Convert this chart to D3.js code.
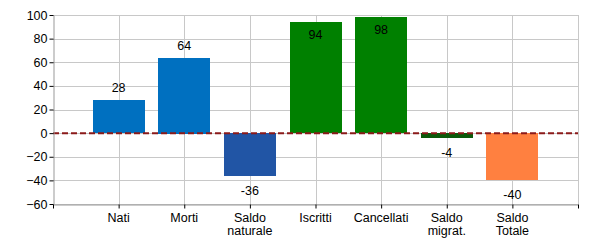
<!DOCTYPE html>
<html>
<head>
<meta charset="utf-8">
<script src="https://cdn.jsdelivr.net/npm/d3@7"></script>
<style>
  body { margin: 0; background: #fff; }
  text { font-family: "Liberation Sans", Arial, sans-serif; }
</style>
</head>
<body>
<svg id="chart" width="600" height="250"></svg>
<script>
/* Chart data */
var categories = ['Nati', 'Morti', 'Saldo\nnaturale', 'Iscritti', 'Cancellati', 'Saldo\nmigrat.', 'Saldo\nTotale'];
var values = [28, 64, -36, 94, 98, -4, -40];
var colors = ['#0070c0', '#0070c0', '#2155a5', '#008000', '#008000', '#0b5a0b', '#ff8040'];
var yTicks = [-60, -40, -20, 0, 20, 40, 60, 80, 100];

var svg = d3.select('#chart');
var plotLeft = 53, plotRight = 578, plotTop = 15, plotBottom = 204;

// one extra slot so the last category sits one step before the right edge
var x = d3.scaleLinear().domain([0, categories.length + 1]).range([plotLeft, plotRight]);
var y = d3.scaleLinear().domain([-60, 100]).range([plotBottom, plotTop]);
var barW = 52;

// grid
svg.append('g').selectAll('line').data(yTicks).enter().append('line')
  .attr('x1', plotLeft).attr('x2', plotRight)
  .attr('y1', function(d) { return Math.round(y(d)) + 0.5; })
  .attr('y2', function(d) { return Math.round(y(d)) + 0.5; })
  .attr('stroke', '#c8c8c8');
svg.append('g').selectAll('line').data(d3.range(1, categories.length + 2)).enter().append('line')
  .attr('y1', plotTop).attr('y2', plotBottom)
  .attr('x1', function(d) { return Math.round(x(d)) + 0.5; })
  .attr('x2', function(d) { return Math.round(x(d)) + 0.5; })
  .attr('stroke', '#c8c8c8');

// bars
svg.append('g').selectAll('rect').data(values).enter().append('rect')
  .attr('x', function(d, i) { return Math.round(x(i + 1) - barW / 2); })
  .attr('width', barW)
  .attr('y', function(d) { return Math.round(y(Math.max(d, 0))); })
  .attr('height', function(d) { return Math.round(Math.abs(y(d) - y(0))); })
  .attr('fill', function(d, i) { return colors[i]; });

// value labels: above positive bars, inside the tall ones, below negatives
svg.append('g').selectAll('text').data(values).enter().append('text')
  .attr('x', function(d, i) { return x(i + 1); })
  .attr('y', function(d) {
    if (d < 0) return y(d) + 19;
    if (d > 85) return y(d) + 17;
    return y(d) - 8;
  })
  .attr('text-anchor', 'middle')
  .attr('font-size', 12.5)
  .attr('fill', '#000')
  .text(function(d) { return d; });

// zero line
svg.append('line')
  .attr('x1', plotLeft).attr('x2', plotRight)
  .attr('y1', y(0)).attr('y2', y(0))
  .attr('stroke', '#8b1a1a').attr('stroke-width', 2)
  .attr('stroke-dasharray', '6,3');

// y axis
var yAxis = svg.append('g')
  .attr('transform', 'translate(' + (plotLeft + 0.5) + ',0)')
  .call(d3.axisLeft(y).tickValues(yTicks).tickSize(4).tickSizeOuter(0));
yAxis.select('.domain').attr('stroke', '#999');
yAxis.selectAll('.tick line').attr('stroke', '#000');
yAxis.selectAll('.tick text').attr('font-size', 12.5).attr('fill', '#000')
  .attr('font-family', '"Liberation Sans", Arial, sans-serif').attr('dx', 1);

// x axis
var xAxis = svg.append('g')
  .attr('transform', 'translate(0,' + (plotBottom + 0.5) + ')')
  .call(d3.axisBottom(x).tickValues(d3.range(0, categories.length + 2)).tickSize(4).tickSizeOuter(0)
    .tickFormat(function() { return ''; }));
xAxis.select('.domain').attr('stroke', '#999');
xAxis.selectAll('.tick line').attr('stroke', '#000');

var labels = svg.append('g').selectAll('text').data(categories).enter().append('text')
  .attr('text-anchor', 'middle')
  .attr('font-size', 12.5)
  .attr('fill', '#000')
  .attr('transform', function(d, i) { return 'translate(' + x(i + 1) + ',' + (plotBottom + 18) + ')'; });
labels.each(function(d) {
  var t = d3.select(this);
  d.split('\n').forEach(function(line, k) {
    t.append('tspan').attr('x', 0).attr('dy', k === 0 ? 0 : 13).text(line);
  });
});
</script>
</body>
</html>
